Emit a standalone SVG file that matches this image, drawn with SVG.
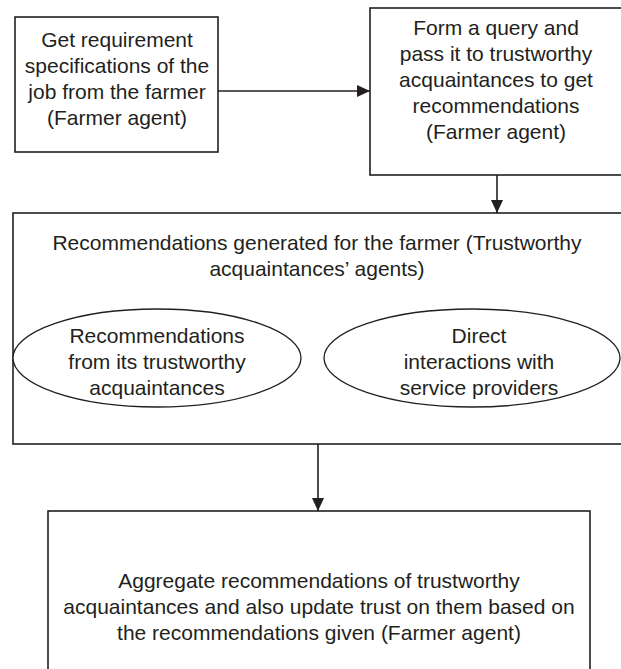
<svg xmlns="http://www.w3.org/2000/svg" width="621" height="669" viewBox="0 0 621 669">
<defs>
<marker id="ah" viewBox="0 0 13 12" refX="13" refY="6" markerWidth="13" markerHeight="12" markerUnits="userSpaceOnUse" orient="auto">
<path d="M0,0 L13,6 L0,12 Z" fill="#231f20"/>
</marker>
<style>
.box{fill:#fff;stroke:#231f20;stroke-width:1.6}
.ell{fill:#fff;stroke:#231f20;stroke-width:1.3}
.t{font-family:"Liberation Sans",Arial,sans-serif;font-size:21px;fill:#231f20;text-anchor:middle}
.c{stroke:#231f20;stroke-width:1.6;fill:none}
</style>
</defs>
<rect width="621" height="669" fill="#fff"/>
<g id="node-get-requirements">
<rect class="box" x="15" y="17" width="203" height="135"/>
<text class="t" x="117" y="47">Get requirement</text>
<text class="t" x="117" y="73">specifications of the</text>
<text class="t" x="117" y="99">job from the farmer</text>
<text class="t" x="117" y="125">(Farmer agent)</text>
</g>
<g id="node-form-query">
<rect class="box" x="370" y="8" width="252" height="167"/>
<text class="t" x="496" y="35">Form a query and</text>
<text class="t" x="496" y="61">pass it to trustworthy</text>
<text class="t" x="496" y="87">acquaintances to get</text>
<text class="t" x="496" y="113">recommendations</text>
<text class="t" x="496" y="139">(Farmer agent)</text>
</g>
<g id="node-recommendations-generated">
<rect class="box" x="13" y="213" width="610" height="231"/>
<text class="t" x="317" y="250">Recommendations generated for the farmer (Trustworthy</text>
<text class="t" x="317" y="276">acquaintances’ agents)</text>
</g>
<g id="node-from-acquaintances">
<ellipse class="ell" cx="157" cy="358" rx="144" ry="49"/>
<text class="t" x="157" y="343">Recommendations</text>
<text class="t" x="157" y="369">from its trustworthy</text>
<text class="t" x="157" y="395">acquaintances</text>
</g>
<g id="node-direct-interactions">
<ellipse class="ell" cx="472" cy="358" rx="148" ry="49"/>
<text class="t" x="479" y="343">Direct</text>
<text class="t" x="479" y="369">interactions with</text>
<text class="t" x="479" y="395">service providers</text>
</g>
<g id="node-aggregate">
<rect class="box" x="48" y="511" width="542" height="170"/>
<text class="t" x="319" y="588">Aggregate recommendations of trustworthy</text>
<text class="t" x="319" y="614">acquaintances and also update trust on them based on</text>
<text class="t" x="319" y="640">the recommendations given (Farmer agent)</text>
</g>
<g id="connectors">
<line class="c" x1="218" y1="91" x2="370" y2="91" marker-end="url(#ah)"/>
<line class="c" x1="497" y1="175" x2="497" y2="213" marker-end="url(#ah)"/>
<line class="c" x1="318" y1="444" x2="318" y2="511" marker-end="url(#ah)"/>
</g>
</svg>
